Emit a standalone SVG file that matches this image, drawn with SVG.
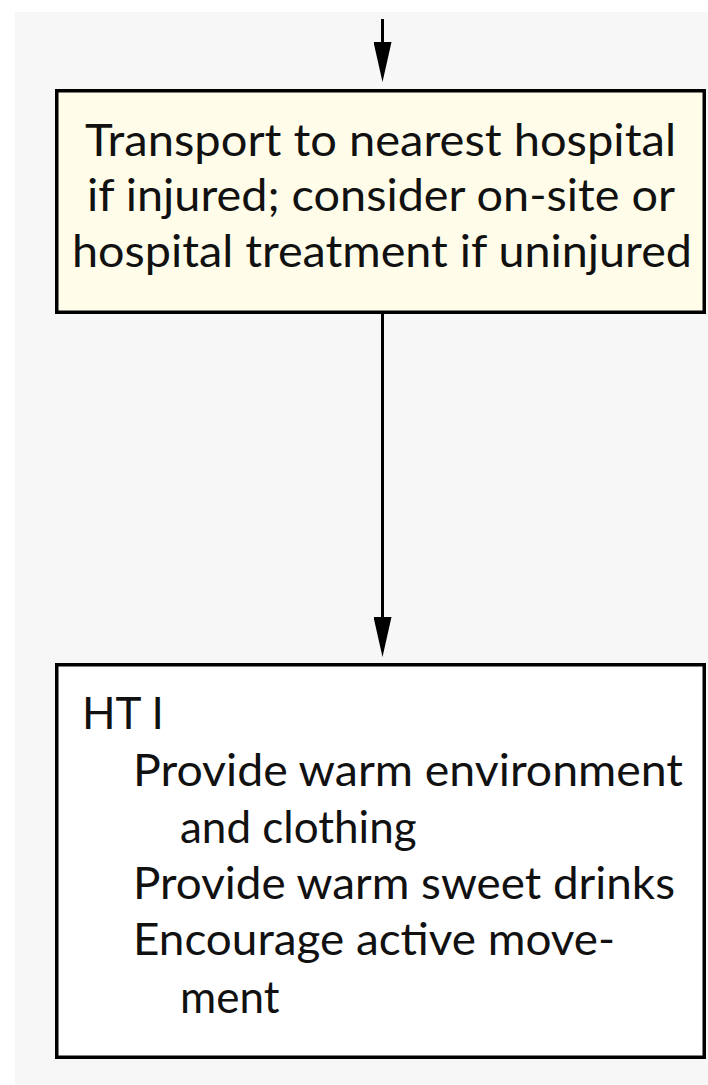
<svg xmlns="http://www.w3.org/2000/svg" width="708" height="1085" viewBox="0 0 708 1085">
  <defs>
    <style>
      .box { stroke: #000; stroke-width: 3.5; }
      .step { fill: #fffde9; }
      .plain { fill: #ffffff; }
      .txt { font-family: Lato, "Open Sans", "Liberation Sans", sans-serif; font-size: 44px; fill: #111; }
      .link { stroke: #000; stroke-width: 3; fill: none; marker-end: url(#arrow); }
    </style>
    <!-- narrow solid arrowhead, starts where the line stops -->
    <marker id="arrow" viewBox="0 0 40 18" refX="0" refY="9" markerWidth="40" markerHeight="18" markerUnits="userSpaceOnUse" orient="auto">
      <path d="M0,0 L40,9 L0,18 Z" fill="#000"/>
    </marker>
  </defs>

  <!-- page background -->
  <rect x="0" y="0" width="708" height="1085" fill="#ffffff"/>
  <rect x="15" y="12" width="693" height="1073" fill="#f7f7f7"/>

  <!-- connectors -->
  <g id="connectors">
    <line class="link" x1="382.5" y1="19" x2="382.5" y2="42"/>
    <line class="link" x1="382.5" y1="314" x2="382.5" y2="617"/>
  </g>

  <!-- transport decision -->
  <g id="transport">
    <rect class="box step" x="56.75" y="90.75" width="647.5" height="221.5"/>
    <text class="txt" x="85" y="156" textLength="591" lengthAdjust="spacingAndGlyphs">Transport to nearest hospital</text>
    <text class="txt" x="87" y="211" textLength="588" lengthAdjust="spacingAndGlyphs">if injured; consider on-site or</text>
    <text class="txt" x="72" y="267" textLength="620" lengthAdjust="spacingAndGlyphs">hospital treatment if uninjured</text>
  </g>

  <!-- HT I measures -->
  <g id="ht1">
    <rect class="box plain" x="56.75" y="664.75" width="647.5" height="392.5"/>
    <text class="txt" x="82" y="729">HT I</text>
    <text class="txt" x="133" y="786" textLength="550" lengthAdjust="spacingAndGlyphs">Provide warm environment</text>
    <text class="txt" x="180" y="843">and clothing</text>
    <text class="txt" x="133" y="899" textLength="542" lengthAdjust="spacingAndGlyphs">Provide warm sweet drinks</text>
    <text class="txt" x="133" y="955" textLength="482" lengthAdjust="spacingAndGlyphs">Encourage active move-</text>
    <text class="txt" x="180" y="1013">ment</text>
  </g>
</svg>
